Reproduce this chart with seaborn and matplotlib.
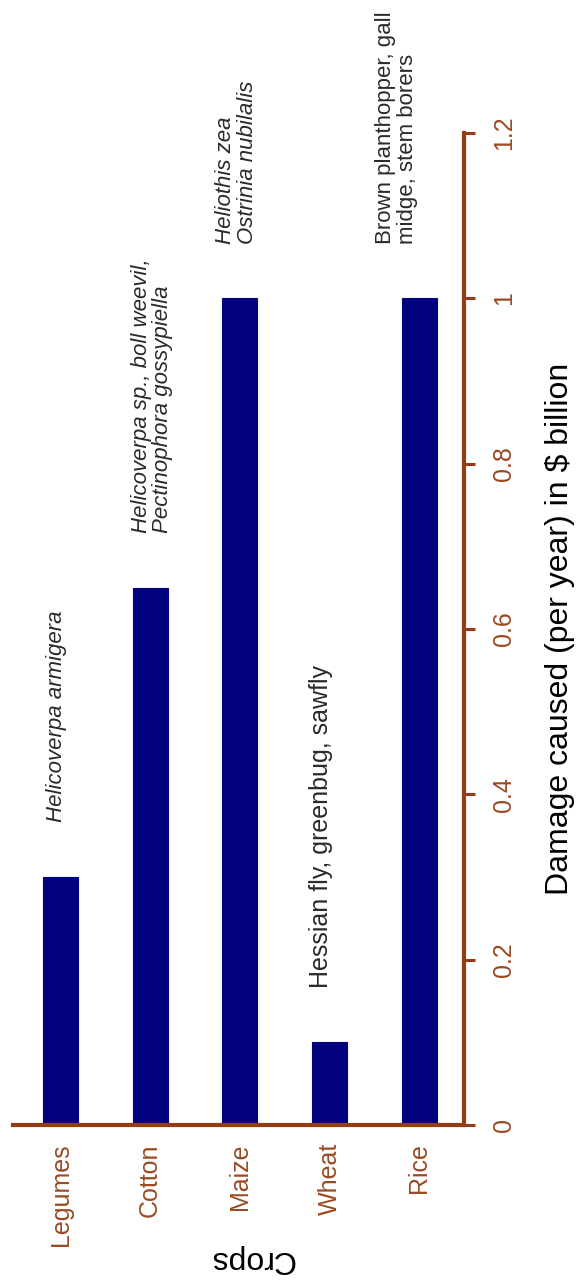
import matplotlib
matplotlib.use("Agg")
import matplotlib.pyplot as plt
import seaborn as sns
import pandas as pd

# ---- data ----
crops = ["Legumes", "Cotton", "Maize", "Wheat", "Rice"]
damage = [0.30, 0.65, 1.00, 0.10, 1.00]
pests = [
    "Helicoverpa armigera",
    "Helicoverpa sp., boll weevil,\nPectinophora gossypiella",
    "Heliothis zea\nOstrinia nubilalis",
    "Hessian fly, greenbug, sawfly",
    "Brown planthopper, gall\nmidge, stem borers",
]
pest_italic = [True, True, True, False, False]
y_ticks = [0, 0.2, 0.4, 0.6, 0.8, 1.0, 1.2]
y_tick_labels = ["0", "0.2", "0.4", "0.6", "0.8", "1", "1.2"]
x_title = "Crops"
y_title = "Damage caused (per year) in $ billion"

# ---- style ----
NAVY = "#02027E"
BROWN = "#963C14"
BROWN_TXT = "#9A4A22"
TEXT_GRAY = "#2a2a2a"
label_dx = [-0.05, 0.02, -0.04, -0.10, -0.25]
label_size = [16, 16, 16, 18, 16]
label_gap = 0.066

sns.set_style("white")
plt.rcParams["font.family"] = ["Liberation Sans", "DejaVu Sans"]

fig = plt.figure(figsize=(5.83, 12.87), dpi=100)
ax = fig.add_axes([13 / 583, 162 / 1287, 451 / 583, 992 / 1287])

df = pd.DataFrame({"crop": crops, "damage": damage})
sns.barplot(data=df, x="crop", y="damage", color=NAVY, saturation=1,
            width=0.39, errorbar=None, edgecolor=NAVY, linewidth=0.8, ax=ax)

ax.set_xlim(-0.53, 4.5)
ax.set_ylim(0, 1.2)
ax.grid(False)

for s in ["top", "left"]:
    ax.spines[s].set_visible(False)
for s in ["right", "bottom"]:
    ax.spines[s].set_visible(True)
    ax.spines[s].set_color(BROWN)
    ax.spines[s].set_linewidth(3)

ax.yaxis.tick_right()
ax.yaxis.set_label_position("right")
ax.set_yticks(y_ticks, y_tick_labels)
ax.tick_params(axis="y", which="major", direction="out", length=8, width=2.2,
               color=BROWN, labelcolor=BROWN_TXT, labelsize=18, pad=12,
               labelrotation=90, right=True, left=False)
plt.setp(ax.get_yticklabels(), va="center", ha="left")

ax.tick_params(axis="x", length=0, labelsize=18, labelcolor=BROWN_TXT,
               pad=13, labelrotation=90)

ax.set_xlabel(x_title, fontsize=23, rotation=180, color="black")
ax.xaxis.set_label_coords(0.53, -0.12)
ax.set_ylabel(y_title, fontsize=23, rotation=90, va="center", ha="center",
              rotation_mode="anchor", color="black")
ax.yaxis.set_label_coords(1.213, 0.5)

for i, (txt, v, it) in enumerate(zip(pests, damage, pest_italic)):
    ax.text(i + label_dx[i], v + label_gap, txt, rotation=90,
            ha="center", va="bottom", multialignment="left",
            fontsize=label_size[i], style="italic" if it else "normal",
            color=TEXT_GRAY, linespacing=1.05)

fig.savefig("out.png", dpi=100)
